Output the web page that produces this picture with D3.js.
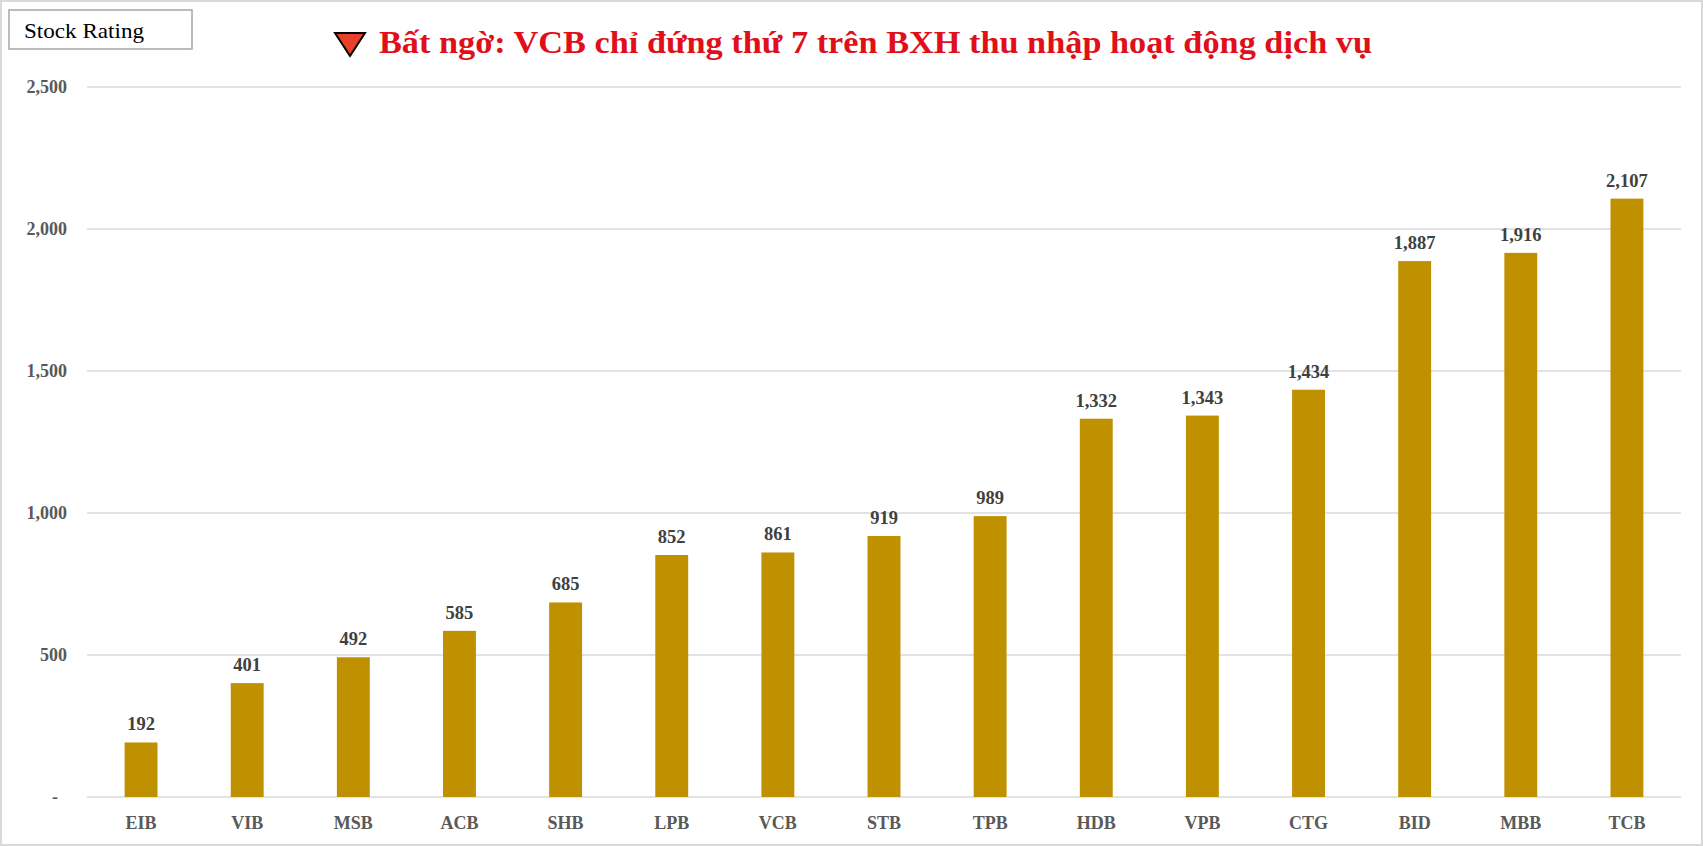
<!DOCTYPE html>
<html><head><meta charset="utf-8">
<script src="https://cdn.jsdelivr.net/npm/d3@7"></script>
<style>body{margin:0;background:#fff}svg{display:block}</style>
</head><body><svg id="c" width="1703" height="846"></svg>
<script>
const categories=["EIB","VIB","MSB","ACB","SHB","LPB","VCB","STB","TPB","HDB","VPB","CTG","BID","MBB","TCB"];
const values=[192,401,492,585,685,852,861,919,989,1332,1343,1434,1887,1916,2107];
const yTicks=[0,500,1000,1500,2000,2500];
const title="Bất ngờ: VCB chỉ đứng thứ 7 trên BXH thu nhập hoạt động dịch vụ";
const svg=d3.select("#c");
const font="'Liberation Serif','DejaVu Serif',serif";
svg.append("rect").attr("x",1).attr("y",1).attr("width",1701).attr("height",844).attr("fill","#fff").attr("stroke","#d9d9d9").attr("stroke-width",2);
svg.append("rect").attr("x",9).attr("y",10).attr("width",183).attr("height",39).attr("fill","#fff").attr("stroke","#a6a6a6").attr("stroke-width",1.5);
svg.append("text").attr("x",24).attr("y",38).attr("font-family",font).attr("font-size",22).attr("textLength",120).attr("lengthAdjust","spacingAndGlyphs").attr("fill","#000").text("Stock Rating");
svg.append("path").attr("d","M335,33 L365,33 L350,56 Z").attr("fill","#e8402a").attr("stroke","#000").attr("stroke-width",2);
svg.append("text").attr("x",379).attr("y",53).attr("font-family",font).attr("font-weight","bold").attr("font-size",32).attr("textLength",993).attr("lengthAdjust","spacingAndGlyphs").attr("fill","#e0101a").text(title);
const x=d3.scaleBand().domain(categories).range([88,1680]).paddingInner(0.69).paddingOuter(0.345);
const y=d3.scaleLinear().domain([0,2500]).range([797,87]);
const g=svg.append("g");
g.selectAll(".grid").data(yTicks).join("line").attr("x1",87).attr("x2",1681).attr("y1",d=>y(d)).attr("y2",d=>y(d)).attr("stroke","#d9d9d9").attr("stroke-width",1.3);
g.selectAll(".yl").data(yTicks).join("text").attr("x",d=>d===0?58:67).attr("y",d=>y(d)+6).attr("text-anchor","end").attr("font-family",font).attr("font-weight","bold").attr("font-size",18).attr("fill","#595959").text(d=>d===0?"-":d3.format(",")(d));
g.selectAll(".bar").data(values).join("rect").attr("x",(d,i)=>x(categories[i])).attr("width",x.bandwidth()).attr("y",d=>y(d)).attr("height",d=>y(0)-y(d)).attr("fill","#bf9000");
g.selectAll(".vl").data(values).join("text").attr("x",(d,i)=>x(categories[i])+x.bandwidth()/2).attr("y",d=>y(d)-12).attr("text-anchor","middle").attr("font-family",font).attr("font-weight","bold").attr("font-size",18.5).attr("fill","#404040").text(d=>d3.format(",")(d));
g.selectAll(".xl").data(categories).join("text").attr("x",d=>x(d)+x.bandwidth()/2).attr("y",829).attr("text-anchor","middle").attr("font-family",font).attr("font-weight","bold").attr("font-size",18).attr("fill","#595959").text(d=>d);
</script></body></html>
